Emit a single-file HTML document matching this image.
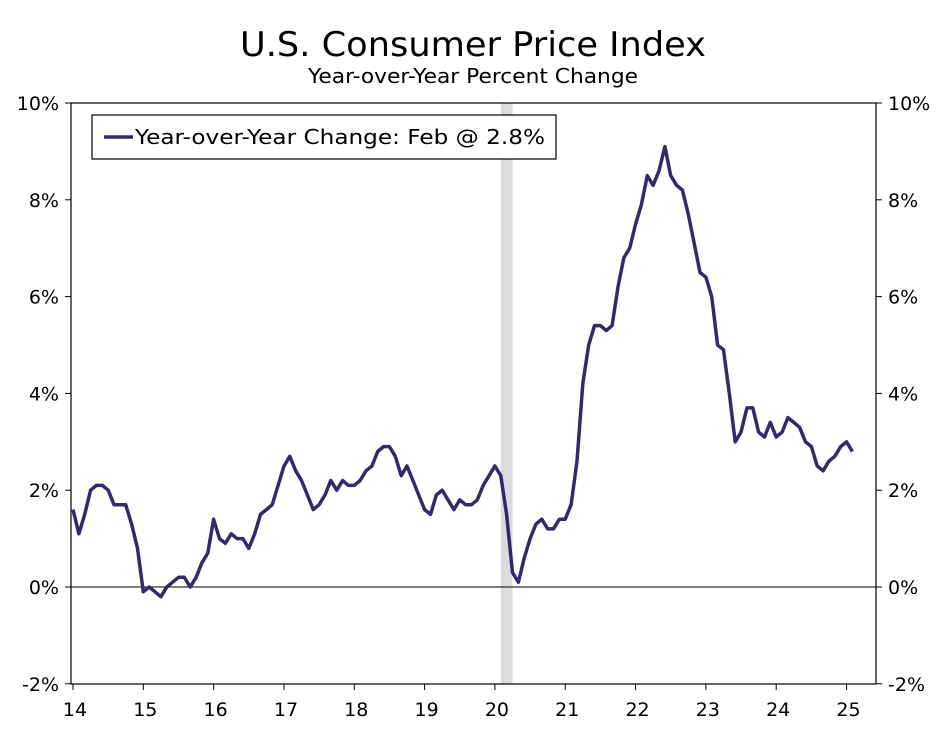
<!DOCTYPE html>
<html><head><meta charset="utf-8"><style>
body{margin:0;background:#fff;}
svg text{font-family:"DejaVu Sans","Liberation Sans",sans-serif;fill:#000;}
</style></head><body>
<svg id="chart" width="947" height="727" viewBox="0 0 947 727" xmlns="http://www.w3.org/2000/svg">
<text x="473" y="56" text-anchor="middle" font-size="34" textLength="466" lengthAdjust="spacingAndGlyphs">U.S. Consumer Price Index</text>
<text x="473" y="83" text-anchor="middle" font-size="20" textLength="330" lengthAdjust="spacingAndGlyphs">Year-over-Year Percent Change</text>
<g id="plot"></g>
</svg>
<script>
const yoyValues = [
1.6,1.1,1.5,2.0,2.1,2.1,2.0,1.7,1.7,1.7,1.3,0.8,
-0.1,0.0,-0.1,-0.2,0.0,0.1,0.2,0.2,0.0,0.2,0.5,0.7,
1.4,1.0,0.9,1.1,1.0,1.0,0.8,1.1,1.5,1.6,1.7,2.1,
2.5,2.7,2.4,2.2,1.9,1.6,1.7,1.9,2.2,2.0,2.2,2.1,
2.1,2.2,2.4,2.5,2.8,2.9,2.9,2.7,2.3,2.5,2.2,1.9,
1.6,1.5,1.9,2.0,1.8,1.6,1.8,1.7,1.7,1.8,2.1,2.3,
2.5,2.3,1.5,0.3,0.1,0.6,1.0,1.3,1.4,1.2,1.2,1.4,
1.4,1.7,2.6,4.2,5.0,5.4,5.4,5.3,5.4,6.2,6.8,7.0,
7.5,7.9,8.5,8.3,8.6,9.1,8.5,8.3,8.2,7.7,7.1,6.5,
6.4,6.0,5.0,4.9,4.0,3.0,3.2,3.7,3.7,3.2,3.1,3.4,
3.1,3.2,3.5,3.4,3.3,3.0,2.9,2.5,2.4,2.6,2.7,2.9,
3.0,2.8];
const yearLabels = ["14","15","16","17","18","19","20","21","22","23","24","25"];
const yTicks = [-2,0,2,4,6,8,10];
const recession = [73,75];
const NS="http://www.w3.org/2000/svg";
const L=71,R=876,T=103,B=684;
const xs=i=>73+i*5.86;
const ys=v=>587-v*48.4;
const g=document.getElementById('plot');
function mk(t,a){const e=document.createElementNS(NS,t);for(const k in a)e.setAttribute(k,a[k]);g.appendChild(e);return e;}
let e=mk('rect',{x:xs(recession[0]),y:T,width:xs(recession[1])-xs(recession[0]),height:B-T,fill:'#dcdcdc'});


e=mk('rect',{x:L,y:T,width:R-L,height:B-T,fill:'none',stroke:'#000','stroke-width':1.2});


e=mk('line',{x1:L,x2:R,y1:ys(0),y2:ys(0),stroke:'#000','stroke-width':1});


yTicks.forEach(v=>{
 const y=ys(v);
 mk('line',{x1:L-6,x2:L,y1:y,y2:y,stroke:'#000'});
 mk('line',{x1:R,x2:R+6,y1:y,y2:y,stroke:'#000'});
 let t=mk('text',{x:L-12,y:y+7,'text-anchor':'end','font-size':19});t.textContent=v+'%';
 
 
 t=mk('text',{x:R+12,y:y+7,'text-anchor':'start','font-size':19});t.textContent=v+'%';
 
 
});
yearLabels.forEach((lab,k)=>{
 const x=xs(k*12);
 mk('line',{x1:x,x2:x,y1:B,y2:B+6,stroke:'#000'});
 const t=mk('text',{x:x+2,y:B+32,'text-anchor':'middle','font-size':19});t.textContent=lab;
 
 
});
const pts=yoyValues.map((v,i)=>xs(i).toFixed(1)+','+ys(v).toFixed(1)).join(' ');
e=mk('polyline',{points:pts,fill:'none',stroke:'#35296b','stroke-width':3.5,'stroke-linejoin':'round'});


e=mk('rect',{x:92,y:115,width:464,height:44,fill:'#fff',stroke:'#000','stroke-width':1.2});


e=mk('line',{x1:104,x2:133,y1:137,y2:137,stroke:'#35296b','stroke-width':3.5});


e=mk('text',{x:135,y:144,'font-size':20,textLength:410,lengthAdjust:'spacingAndGlyphs'});e.textContent='Year-over-Year Change: Feb @ 2.8%';


</script>
</body></html>
